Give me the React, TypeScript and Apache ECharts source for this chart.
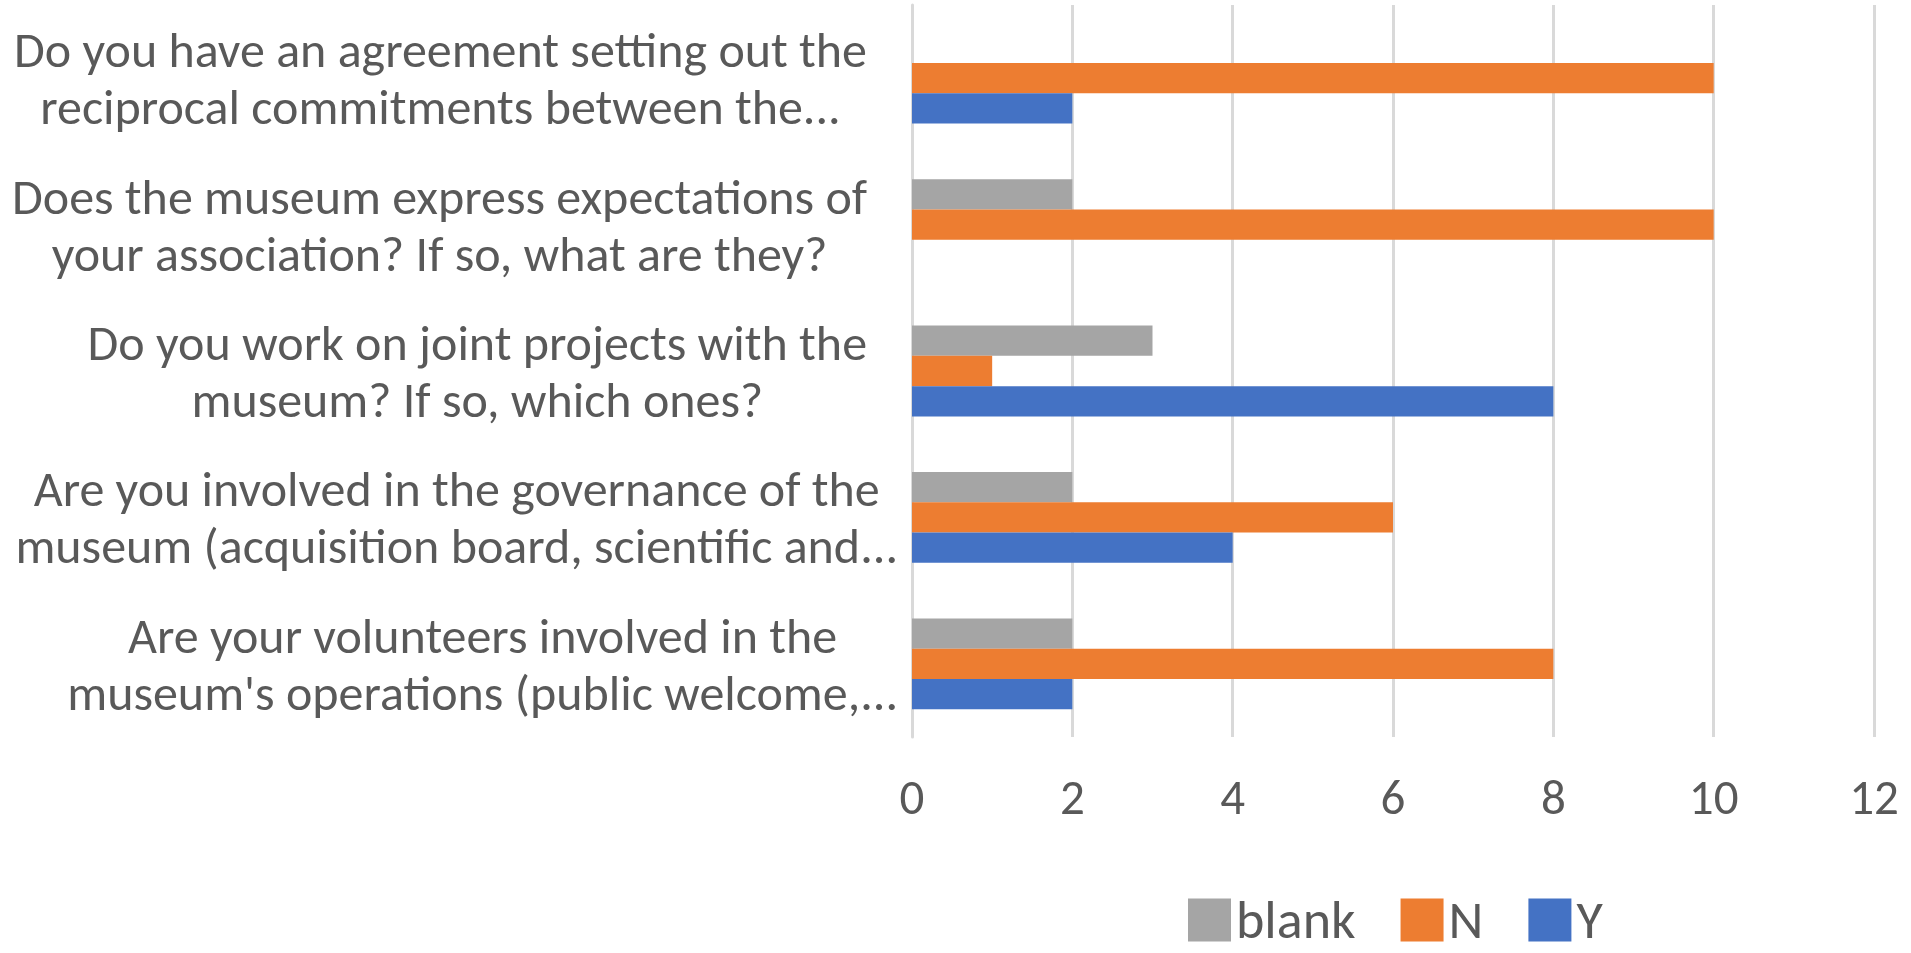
import React, { useEffect, useRef } from "react";
import * as echarts from "echarts";

const categories: string[] = [
  "Do you have an agreement setting out the\nreciprocal commitments between the...",
  "Does the museum express expectations of\nyour association? If so, what are they?",
  "Do you work on joint projects with the\nmuseum? If so, which ones?",
  "Are you involved in the governance of the\nmuseum (acquisition board, scientific and...",
  "Are your volunteers involved in the\nmuseum's operations (public welcome,...",
];

const seriesNames: string[] = ["blank", "N", "Y"];
const blankValues: (number | null)[] = [null, 2, 3, 2, 2];
const nValues: (number | null)[] = [10, 10, 1, 6, 8];
const yValues: (number | null)[] = [2, null, 8, 4, 2];
const xTicks = { min: 0, max: 12, interval: 2 };

const colors = ["#A5A5A5", "#ED7D31", "#4472C4"];
const FONT = "Carlito, 'Liberation Sans Narrow', 'DejaVu Sans Condensed', 'Open Sans', sans-serif";
const LABEL_SIZE = 50;
const GRID_LEFT = 912;

function measureWidest(text: string): number {
  const c = document.createElement("canvas");
  const ctx = c.getContext("2d");
  if (!ctx) return 0;
  ctx.font = `${LABEL_SIZE}px ${FONT}`;
  return Math.max(...text.split("\n").map((l) => ctx.measureText(l).width));
}

export default function App() {
  const ref = useRef<HTMLDivElement>(null);
  useEffect(() => {
    if (!ref.current) return;
    const chart = echarts.init(ref.current, null, { renderer: "svg" });
    const values = [blankValues, nValues, yValues];
    const catData = categories.map((c) => {
      const w = measureWidest(c);
      const widestLine = c.split("\n").reduce((a, b) => (b.length > a.length ? b : a));
      const rightEdge = widestLine.endsWith("...") ? 898 : 867;
      const center = rightEdge - w / 2;
      const pr = Math.max(0, 2 * (GRID_LEFT - center));
      return {
        value: c,
        textStyle: { align: "center", verticalAlign: "middle", padding: [0, pr, 0, 0] },
      };
    });
    chart.setOption({
      animation: false,
      backgroundColor: "#ffffff",
      color: colors,
      textStyle: { fontFamily: FONT },
      grid: {
        left: GRID_LEFT,
        right: 37,
        top: 5,
        bottom: 216,
        containLabel: false,
        outerBoundsMode: "none",
      },
      legend: {
        data: seriesNames,
        top: 893,
        left: 1188,
        padding: 0,
        itemWidth: 43,
        itemHeight: 43,
        itemGap: 45,
        icon: "rect",
        textStyle: { fontFamily: FONT, fontSize: 54, lineHeight: 54, color: "#595959" },
      },
      xAxis: {
        type: "value",
        min: xTicks.min,
        max: xTicks.max,
        interval: xTicks.interval,
        axisLine: { show: false },
        axisTick: { show: false },
        splitLine: { show: true, lineStyle: { color: "#D9D9D9", width: 3 } },
        axisLabel: { fontFamily: FONT, fontSize: 49, color: "#595959", margin: 35 },
      },
      yAxis: {
        type: "category",
        data: catData,
        inverse: true,
        axisLine: { show: true, lineStyle: { color: "#D9D9D9", width: 3 } },
        axisTick: { show: false },
        axisLabel: {
          fontFamily: FONT,
          fontSize: LABEL_SIZE,
          color: "#595959",
          align: "center",
          margin: 0,
          lineHeight: 57,
        },
      },
      series: seriesNames.map((name, i) => ({
        name,
        type: "bar",
        data: values[i],
        barGap: "0%",
        barCategoryGap: "38%",
        itemStyle: { color: colors[i] },
      })),
    });
    return () => chart.dispose();
  }, []);
  return (
    <div
      ref={ref}
      style={{ position: "fixed", left: 0, top: 0, width: 1911, height: 953, background: "#fff" }}
    />
  );
}
